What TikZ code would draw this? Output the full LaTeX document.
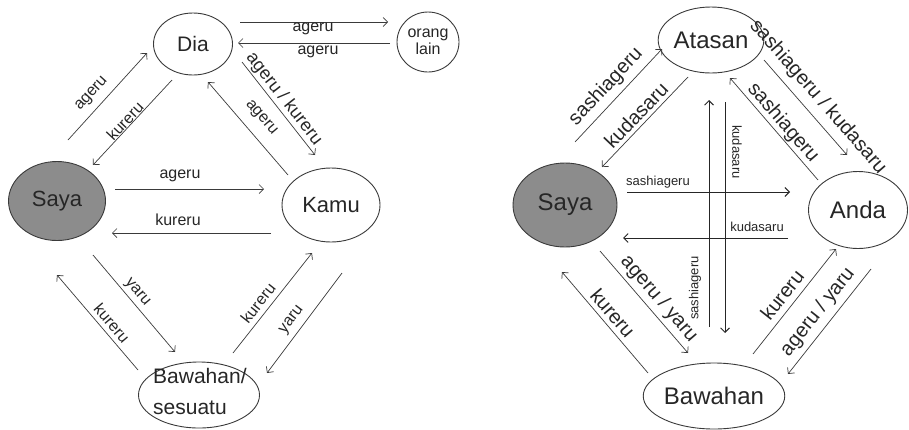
\documentclass[tikz,border=0pt]{standalone}
\usepackage{fontspec}
\setmainfont{Liberation Sans}
\usetikzlibrary{arrows.meta,shapes.geometric}
\definecolor{ln}{HTML}{3A3A3A}
\definecolor{tx}{HTML}{262626}
\definecolor{sayafill}{HTML}{8C8C8C}
\tikzset{
  ent/.style={ellipse,draw=ln,line width=0.9pt,inner sep=0pt,text=tx},
  conn/.style={draw=ln,line width=0.7pt,-{Straight Barb[length=4.5pt,width=9pt]}},
  connb/.style={draw=black!85,line width=0.9pt,-{Straight Barb[length=4.5pt,width=9pt]}},
  lab/.style={text=tx,inner sep=0pt,font=\fontsize{16}{16}\selectfont},
  labr/.style={text=tx,inner sep=0pt,font=\fontsize{20}{20}\selectfont},
  labs/.style={text=tx,inner sep=0pt,font=\fontsize{13}{13}\selectfont},
}
\begin{document}
\begin{tikzpicture}[x=1pt,y=-1pt]
\useasboundingbox (0,0) rectangle (909,429);
% ---------- left diagram nodes
\node[ent,minimum width=79pt,minimum height=62pt,font=\fontsize{21}{21}\selectfont] (dia) at (193,44) {Dia};
\node[ent,minimum width=62pt,minimum height=60pt,font=\fontsize{16}{17}\selectfont,align=center] (orang) at (428,42) {orang\\lain};
\node[ent,fill=sayafill,minimum width=97pt,minimum height=79pt,font=\fontsize{22}{22}\selectfont] (sayaL) at (57,201) {Saya};
\node[ent,minimum width=98pt,minimum height=74pt,font=\fontsize{22}{22}\selectfont] (kamu) at (331,205) {Kamu};
\node[ent,minimum width=121pt,minimum height=66pt] (bawL) at (199,395) {};
\node[text=tx,inner sep=0pt,align=left,font=\fontsize{21}{31}\selectfont,anchor=north west] (bawLt) at (153,368) {Bawahan/\\sesuatu};
% ---------- right diagram nodes
\node[ent,minimum width=84pt,minimum height=66pt,font=\fontsize{24}{24}\selectfont] (atasan) at (711,40) {Atasan};
\node[ent,fill=sayafill,minimum width=104pt,minimum height=84pt,font=\fontsize{24}{24}\selectfont] (sayaR) at (565,205) {Saya};
\node[ent,minimum width=99pt,minimum height=77pt,font=\fontsize{24}{24}\selectfont] (anda) at (858,210) {Anda};
\node[ent,minimum width=130pt,minimum height=66pt,font=\fontsize{24}{24}\selectfont] (bawR) at (714,396) {Bawahan};
% ---------- left arrow endpoints
\coordinate (a1s) at (240,22);  \coordinate (a1e) at (388,22);
\coordinate (a2s) at (390,43);  \coordinate (a2e) at (238,43);
\coordinate (a3s) at (68,140);  \coordinate (a3e) at (147,53);
\coordinate (a4s) at (172,80);  \coordinate (a4e) at (93,165);
\coordinate (a5s) at (242,62);  \coordinate (a5e) at (315,155);
\coordinate (a6s) at (288,175); \coordinate (a6e) at (208,82);
\coordinate (a7s) at (115,189); \coordinate (a7e) at (264,189);
\coordinate (a8s) at (271,233); \coordinate (a8e) at (112,233);
\coordinate (a9s) at (93,255);  \coordinate (a9e) at (175,352);
\coordinate (a10s) at (138,370); \coordinate (a10e) at (57,275);
\coordinate (a11s) at (233,353); \coordinate (a11e) at (312,253);
\coordinate (a12s) at (342,273); \coordinate (a12e) at (267,373);
\draw[conn] (a1s) -- (a1e);
\draw[conn] (a2s) -- (a2e);
\draw[conn] (a3s) -- (a3e);
\draw[conn] (a4s) -- (a4e);
\draw[conn] (a5s) -- (a5e);
\draw[conn] (a6s) -- (a6e);
\draw[conn] (a7s) -- (a7e);
\draw[conn] (a8s) -- (a8e);
\draw[conn] (a9s) -- (a9e);
\draw[conn] (a10s) -- (a10e);
\draw[conn] (a11s) -- (a11e);
\draw[conn] (a12s) -- (a12e);
% left labels
\node[lab] (l1) at (313,29) {ageru};
\node[lab] (l2) at (318,52) {ageru};
\node[lab,rotate=47.8] (l3) at (92,94) {ageru};
\node[lab,rotate=47] (l4) at (125,121) {kureru};
\node[lab,font=\fontsize{18}{18}\selectfont,rotate=-51.9] (l5) at (284,99) {ageru / kureru};
\node[lab,rotate=-49.3] (l6) at (261,118) {ageru};
\node[lab] (l7) at (180,176) {ageru};
\node[lab] (l8) at (178,220) {kureru};
\node[lab,rotate=-49.8] (l9) at (137,293) {yaru};
\node[lab,rotate=-49.5] (l10) at (112,323) {kureru};
\node[lab,rotate=51.7] (l11) at (258,303) {kureru};
\node[lab,rotate=53] (l12) at (292,320) {yaru};
% ---------- right arrow endpoints
\coordinate (b1s) at (575,142); \coordinate (b1e) at (662,49);
\coordinate (b2s) at (688,77);  \coordinate (b2e) at (602,167);
\coordinate (b3s) at (818,180); \coordinate (b3e) at (730,78);
\coordinate (b4s) at (764,60);  \coordinate (b4e) at (847,155);
\coordinate (b5s) at (627,192); \coordinate (b5e) at (790,192);
\coordinate (b6s) at (788,238); \coordinate (b6e) at (623,238);
\coordinate (b7s) at (709,327); \coordinate (b7e) at (709,100);
\coordinate (b8s) at (725,102); \coordinate (b8e) at (725,333);
\coordinate (b9s) at (600,251); \coordinate (b9e) at (688,353);
\coordinate (b10s) at (648,373); \coordinate (b10e) at (562,272);
\coordinate (b11s) at (753,354); \coordinate (b11e) at (836,249);
\coordinate (b12s) at (871,269); \coordinate (b12e) at (788,374);
\draw[conn] (b1s) -- (b1e);
\draw[conn] (b2s) -- (b2e);
\draw[conn] (b3s) -- (b3e);
\draw[conn] (b4s) -- (b4e);
\draw[connb] (b5s) -- (b5e);
\draw[connb] (b6s) -- (b6e);
\draw[connb] (b7s) -- (b7e);
\draw[connb] (b8s) -- (b8e);
\draw[conn] (b9s) -- (b9e);
\draw[conn] (b10s) -- (b10e);
\draw[conn] (b11s) -- (b11e);
\draw[conn] (b12s) -- (b12e);
% right labels
\node[labr,rotate=46.9] (r1) at (606,87) {sashiageru};
\node[labr,rotate=46.3] (r2) at (636,115) {kudasaru};
\node[labr,rotate=-49.2] (r3) at (783,123) {sashiageru};
\node[labr,rotate=-48.9] (r4) at (818,97) {sashiageru / kudasaru};
\node[labs] (r5) at (658,182) {sashiageru};
\node[labs] (r6) at (757,227) {kudasaru};
\node[labs,rotate=90] (r7) at (695,288) {sashiageru};
\node[labs,rotate=-90] (r8) at (737,152) {kudasaru};
\node[labr,rotate=-49.2] (r9) at (659,299) {ageru / yaru};
\node[labr,rotate=-49.6] (r10) at (613,313) {kureru};
\node[labr,rotate=51.7] (r11) at (782,295) {kureru};
\node[labr,rotate=51.7] (r12) at (818,312) {ageru / yaru};
\end{tikzpicture}
\end{document}
